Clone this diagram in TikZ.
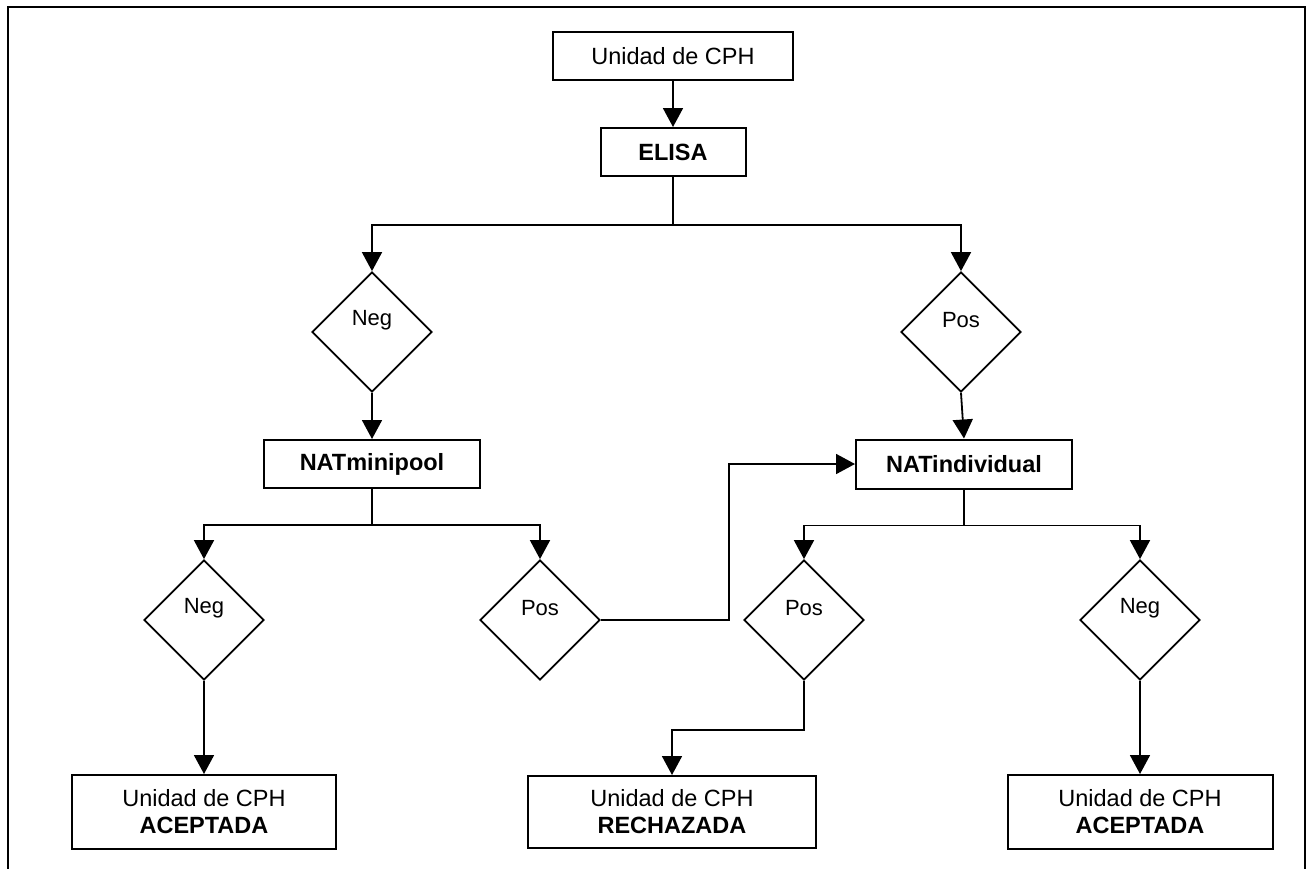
\documentclass[tikz,border=0pt]{standalone}
\usepackage{fontspec}
\setmainfont{Liberation Sans}
\usetikzlibrary{shapes.geometric,arrows.meta}

\tikzset{
  box/.style={draw, line width=2pt, fill=white, inner sep=0pt, align=center,
              font=\fontsize{23.5}{27}\selectfont},
  decision/.style={draw, diamond, line width=1.8pt, inner sep=0pt,
              minimum width=120pt, minimum height=120pt},
  dlabel/.style={font=\fontsize{22}{26}\selectfont},
  link/.style={line width=1.8pt},
  arr/.style={link, -{Triangle[length=19pt,width=20pt]}}
}

\begin{document}
\begin{tikzpicture}[x=1pt,y=-1pt]
  \useasboundingbox (0,0) rectangle (1307,868);
  % outer frame, open at the bottom edge
  \draw[line width=2.4pt] (8,890) -- (8,7) -- (1305,7) -- (1305,890);

  % boxes
  \node[box, minimum width=240pt, minimum height=48pt] (start) at (673,56) {Unidad de CPH};
  \node[box, minimum width=145pt, minimum height=48pt] (elisa) at (673,152) {\bfseries ELISA};
  \node[box, minimum width=216pt, minimum height=48pt] (mini) at (372,464) {\bfseries NATminipool};
  \node[box, minimum width=216pt, minimum height=49pt] (indiv) at (964,464) {\bfseries NATindividual};
  \node[box, minimum width=264pt, minimum height=74pt] (acc1) at (204,812) {Unidad de CPH\\\bfseries ACEPTADA};
  \node[box, minimum width=288pt, minimum height=72pt] (rej) at (672,812) {Unidad de CPH\\\bfseries RECHAZADA};
  \node[box, minimum width=265pt, minimum height=74pt] (acc2) at (1140,812) {Unidad de CPH\\\bfseries ACEPTADA};

  % decisions
  \node[decision, label={[dlabel, yshift=12pt]center:Neg}] (neg1) at (372,332) {};
  \node[decision, label={[dlabel, yshift=12pt]center:Pos}] (pos1) at (961,332) {};
  \node[decision, label={[dlabel, yshift=12pt]center:Neg}] (neg2) at (204,620) {};
  \node[decision, label={[dlabel, yshift=12pt]center:Pos}] (pos2) at (540,620) {};
  \node[decision, label={[dlabel, yshift=12pt]center:Pos}] (pos3) at (804,620) {};
  \node[decision, label={[dlabel, yshift=12pt]center:Neg}] (neg3) at (1140,620) {};

  % connectors
  \draw[arr] (start.south) -- (elisa.north);
  \draw[link] (elisa.south) -- ++(0,48) coordinate (split1);
  \draw[arr] (split1) -| (neg1.north);
  \draw[arr] (split1) -| (pos1.north);

  \draw[arr] (neg1.south) -- (mini.north);
  \draw[arr] (pos1.south) -- (indiv.north);

  \draw[link] (mini.south) -- ++(0,36) coordinate (split2);
  \draw[arr] (split2) -| (neg2.north);
  \draw[arr] (split2) -| (pos2.north);

  \draw[link] (indiv.south) -- ++(0,36) coordinate (split3);
  \draw[arr] (split3) -| (pos3.north);
  \draw[arr] (split3) -| (neg3.north);

  \draw[arr] (pos2.east) -- ++(128,0) |- (indiv.west);

  \draw[arr] (neg2.south) -- (acc1.north);
  \draw[arr] (pos3.south) -- ++(0,49) -| (rej.north);
  \draw[arr] (neg3.south) -- (acc2.north);
\end{tikzpicture}
\end{document}
